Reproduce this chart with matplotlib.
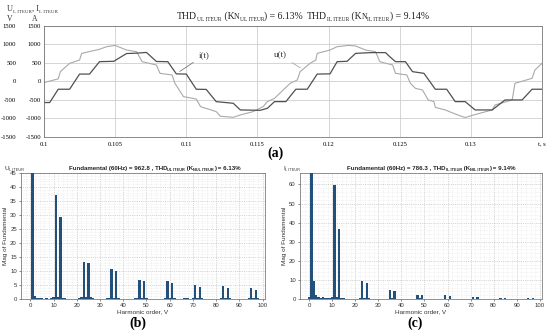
import numpy as np
import matplotlib
matplotlib.use('Agg')
import matplotlib.pyplot as plt
from matplotlib.ticker import MultipleLocator

# waveform (a), time in ms
t_u = [100.0, 101.0, 101.15, 101.8, 102.5, 102.65, 103.9, 104.4, 105.0, 105.8,
       106.5, 106.9, 107.9, 108.15, 109.0, 109.2, 109.8, 110.7, 111.0, 112.1,
       112.4, 113.3, 113.8, 114.7, 115.4, 115.7, 116.2, 117.3, 117.8, 118.0,
       118.7, 119.1, 119.2, 120.1, 120.6, 121.4, 121.9, 122.6, 123.3, 123.6,
       124.5, 124.7, 125.5, 125.75, 126.1, 126.6, 127.0, 127.4, 127.5, 128.2,
       128.9, 129.4, 129.6, 130.2, 131.5, 131.7, 132.9, 133.1, 134.3, 134.5, 135.0]
u_vals = [-30, 70, 265, 490, 580, 760, 870, 940, 975, 850,
          805, 535, 445, 220, 175, -50, -410, -475, -680, -815,
          -940, -970, -905, -815, -680, -545, -455, -50, 40, 265,
          490, 580, 760, 850, 940, 975, 960, 850, 805, 535,
          445, 220, 175, -50, -185, -230, -500, -545, -700, -770,
          -880, -950, -975, -905, -770, -635, -500, -50, 85, 310, 490]

t_i = [100.0, 100.4, 101.0, 101.8, 102.5, 103.2, 103.9, 104.9, 105.8, 106.5,
       107.2, 107.9, 108.7, 109.3, 110.0, 110.7, 111.4, 112.1, 113.3, 113.8,
       115.2, 115.7, 116.2, 117.0, 117.7, 118.5, 119.2, 120.1, 120.6, 121.3,
       121.9, 123.0, 124.0, 124.3, 124.7, 125.4, 125.9, 126.7, 127.5, 128.3,
       128.9, 129.6, 130.3, 131.5, 132.4, 133.6, 134.3, 135.0]
i_vals = [-570, -570, -210, -210, 200, 200, 535, 545, 755, 765,
          785, 540, 535, 205, 200, -210, -215, -545, -590, -770,
          -780, -725, -545, -545, -210, -210, 200, 205, 535, 545,
          760, 780, 780, 670, 535, 535, 265, 220, -210, -210,
          -545, -545, -770, -770, -500, -500, -210, -210]

x_ticks = [0.1, 0.105, 0.11, 0.115, 0.12, 0.125, 0.13, 0.135]
x_labels = ['0.1', '0.105', '0.11', '0.115', '0.12', '0.125', '0.13', 't, s']
y_ticks = [-1500, -1000, -500, 0, 500, 1000, 1500]

# harmonic spectra (b) and (c), % of fundamental
u_orders = [1, 2, 3, 4, 5, 7, 9, 10, 11, 12, 13, 14, 15, 21, 22, 23, 24, 25, 26, 27,
            33, 34, 35, 36, 37, 38, 45, 46, 47, 48, 49, 50, 58, 59, 60, 61, 62,
            66, 67, 68, 70, 71, 72, 73, 74, 82, 83, 84, 85, 86, 94, 95, 96, 97, 98]
u_mags = [100, 1.2, 0.4, 0.3, 0.3, 0.2, 0.3, 0.7, 37.0, 0.6, 29.4, 0.4, 0.2, 0.3, 0.7, 13.3, 0.8, 12.8, 0.6, 0.3,
          0.3, 0.4, 10.7, 0.4, 9.9, 0.3, 0.3, 0.5, 6.9, 0.5, 6.5, 0.4, 0.4, 6.3, 0.4, 5.7, 0.3,
          0.4, 0.3, 0.3, 0.4, 4.9, 0.3, 4.3, 0.3, 0.4, 4.5, 0.3, 4.1, 0.3, 0.5, 3.8, 0.4, 3.3, 0.4]

i_orders = [0, 1, 2, 3, 4, 5, 6, 7, 8, 9, 10, 11, 12, 13, 14, 15, 22, 23, 24, 25, 26,
            35, 36, 37, 47, 48, 49, 59, 61, 71, 73, 83, 85, 95, 97]
i_mags = [0.8, 100, 9.6, 2.1, 0.8, 0.6, 1.0, 0.7, 0.6, 0.6, 1.0, 59.5, 1.3, 36.7, 0.6, 0.4, 0.5, 9.3, 0.5, 8.4, 0.3,
          4.9, 0.3, 4.4, 2.3, 0.3, 2.1, 1.9, 1.7, 1.1, 0.9, 0.7, 0.6, 0.5, 0.5]

serif = 'Liberation Serif'
sans = 'Liberation Sans'
bar_color = '#22507a'

fig = plt.figure(figsize=(5.5, 3.34), dpi=100)


def label_chain(x, y, pieces, family, color='#222222', weight='normal'):
    # pieces: (text, size, shift in points); each one starts where the last ended
    last = fig.text(x, y, pieces[0][0], family=family, fontsize=pieces[0][1],
                    color=color, fontweight=weight, va='bottom')
    for txt, size, dy in pieces[1:]:
        last = fig.axes[0].annotate(txt, xy=(1, 0), xycoords=last, xytext=(0, dy),
                                    textcoords='offset points', family=family, fontsize=size,
                                    color=color, fontweight=weight, va='bottom',
                                    annotation_clip=False)
    return last


# ---- (a) waveforms
ax = fig.add_axes([0.08, 0.59, 0.9055, 0.3322])
ax.plot(np.array(t_u) / 1000, u_vals, color='#a9a9a9', lw=0.8)
ax.plot(np.array(t_i) / 1000, i_vals, color='#505050', lw=0.9)
ax.set_xlim(0.1, 0.135)
ax.set_ylim(-1500, 1500)
ax.set_xticks(x_ticks)
ax.set_xticklabels(x_labels, family=serif, fontsize=4.8)
ax.set_yticks(y_ticks)
ax.set_yticklabels([str(v) for v in y_ticks], family=serif, fontsize=4.8)
ax.tick_params(length=0, pad=2)
ax.tick_params(axis='x', pad=4)
ax.grid(True, color='#cfcfcf', lw=0.6)
for s in ax.spines.values():
    s.set_color('#777777')
    s.set_linewidth(0.6)

# V column of tick labels
ax2 = ax.twinx()
ax2.set_ylim(-1500, 1500)
ax2.yaxis.set_ticks_position('left')
ax2.yaxis.set_label_position('left')
ax2.spines['left'].set_position(('outward', 18))
for s in ax2.spines.values():
    s.set_visible(False)
ax2.set_yticks(y_ticks)
ax2.set_yticklabels([str(v) for v in y_ticks], family=serif, fontsize=4.8)
ax2.tick_params(length=0, pad=2)

label_chain(0.013, 0.962, [('U', 6, 0), ('L ITEUR', 3.6, -0.6), (', I', 6, 0.6), ('L ITEUR', 3.6, -0.6)],
            serif, color='#333333')
fig.text(0.013, 0.938, 'V', family=serif, fontsize=5.5, color='#333333')
fig.text(0.058, 0.938, 'A', family=serif, fontsize=5.5, color='#333333')
label_chain(0.322, 0.936, [('THD', 7, 0), ('UL ITEUR', 4, -0.8), (' (K', 7, 0.8), ('N', 5.5, 0),
                           ('UL ITEUR', 4, -0.8), (') = 6.13%', 7, 0.8)], serif)
label_chain(0.558, 0.936, [('THD', 7, 0), ('IL ITEUR', 4, -0.8), (' (K', 7, 0.8), ('N', 5.5, 0),
                           ('IL ITEUR', 4, -0.8), (') = 9.14%', 7, 0.8)], serif)

ax.annotate('i(t)', xy=(0.10938, 230), xytext=(0.11085, 650),
            family=serif, fontsize=6.5, color='#333333',
            arrowprops=dict(arrowstyle='-', color='#777777', lw=0.6))
ax.annotate('u(t)', xy=(0.11818, 330), xytext=(0.11615, 650),
            family=serif, fontsize=6.5, color='#333333',
            arrowprops=dict(arrowstyle='-', color='#aaaaaa', lw=0.6))

fig.text(0.5, 0.53, '(a)', family=serif, fontsize=10, fontweight='bold', ha='center')


# ---- (b), (c) spectra
def spectrum(rect, orders, mags, ymax, ystep, name, fund, thd, tag):
    axs = fig.add_axes(rect)
    axs.bar(orders, mags, width=1.0, color=bar_color, zorder=3)
    axs.set_xlim(-4, 101)
    axs.set_ylim(0, ymax)
    axs.xaxis.set_major_locator(MultipleLocator(10))
    axs.yaxis.set_major_locator(MultipleLocator(ystep))
    axs.xaxis.set_minor_locator(MultipleLocator(2))
    axs.yaxis.set_minor_locator(MultipleLocator(ystep / 5))
    axs.grid(True, which='major', ls=':', color='#b0b0b0', lw=0.5)
    axs.grid(True, which='minor', ls=':', color='#e0e0e0', lw=0.4)
    axs.tick_params(labelsize=4.3, length=1.5, width=0.4, pad=1.5, colors='#333333')
    axs.tick_params(which='minor', length=0)
    for lab in axs.get_xticklabels() + axs.get_yticklabels():
        lab.set_family(sans)
    for s in axs.spines.values():
        s.set_color('#666666')
        s.set_linewidth(0.5)
    axs.set_xlabel('Harmonic order, V', family=sans, fontsize=4.6, labelpad=1, color='#333333')
    axs.set_ylabel('Mag of Fundamental', family=sans, fontsize=4.6, labelpad=1.5, color='#333333')
    x0 = rect[0] + rect[2] * 0.195
    y0 = rect[1] + rect[3] + 0.006
    label_chain(x0, y0, [('Fundamental (60Hz) = ' + fund + ' , THD', 4.4, 0), (name + ' ITEUR', 2.8, -0.5),
                         (' (K', 4.4, 0.5), ('N' + name + ' ITEUR', 2.8, -0.5), (') = ' + thd, 4.4, 0.5)],
                sans, weight='bold')
    label_chain(rect[0] - 0.03, y0, [(name[0], 4.6, 0), (name[1:] + ' ITEUR', 2.8, -0.5)], sans, color='#333333')
    fig.text(rect[0] + rect[2] / 2 - 0.01, 0.02, tag, family=serif, fontsize=10, fontweight='bold', ha='center')
    return axs


spectrum([0.0382, 0.1048, 0.4436, 0.3772], u_orders, u_mags, 45, 5, 'UL', '962.8', '6.13%', '(b)')
spectrum([0.5455, 0.1048, 0.44, 0.3772], i_orders, i_mags, 66, 10, 'IL', '786.3', '9.14%', '(c)')

fig.savefig('out.png', dpi=100)
